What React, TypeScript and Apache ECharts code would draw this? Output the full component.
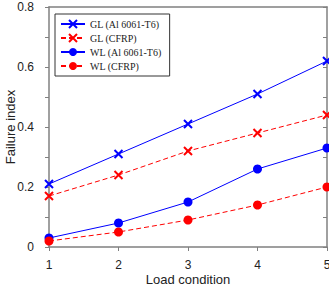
import React, { useEffect, useRef } from "react";
import * as echarts from "echarts";

const loadConditions = [1, 2, 3, 4, 5];
const glAl = [0.21, 0.31, 0.41, 0.51, 0.62];
const glCfrp = [0.17, 0.24, 0.32, 0.38, 0.44];
const wlAl = [0.03, 0.08, 0.15, 0.26, 0.33];
const wlCfrp = [0.02, 0.05, 0.09, 0.14, 0.2];
const seriesNames = ["GL (Al 6061-T6)", "GL (CFRP)", "WL (Al 6061-T6)", "WL (CFRP)"];

const BLUE = "#0000ff";
const RED = "#ff0000";
const CROSS = "path://M0,0L10,10M10,0L0,10";

export default function App() {
  const ref = useRef<HTMLDivElement>(null);
  useEffect(() => {
    if (!ref.current) return;
    const chart = echarts.init(ref.current, undefined, { renderer: "svg" });
    const pair = (vals: number[]) => loadConditions.map((x, i) => [x, vals[i]]);
    const mk = (name: string, vals: number[], color: string, dashed: boolean, cross: boolean) => ({
      name,
      type: "line",
      data: pair(vals),
      symbol: cross ? CROSS : "circle",
      symbolSize: cross ? 8 : 9,
      showAllSymbol: true,
      clip: false,
      lineStyle: { color, width: 1, type: dashed ? [5, 3] : "solid" },
      itemStyle: cross
        ? { color: "rgba(0,0,0,0)", borderColor: color, borderWidth: 2 }
        : { color, borderColor: color, borderWidth: 0 },
      emphasis: { disabled: true },
    });
    const axisLine = { show: true, onZero: false, lineStyle: { color: "#808080", width: 1.5 } };
    const tickStyle = { color: "#808080", width: 1 };
    const labelFont = { fontFamily: "Liberation Sans", fontSize: 12, color: "#222" };
    chart.setOption({
      animation: false,
      grid: { left: 49, right: 2, top: 7, bottom: 40, containLabel: false, outerBoundsMode: "none" },
      legend: {
        data: seriesNames,
        orient: "vertical",
        left: 55,
        top: 14,
        padding: [5, 8, 5, 5],
        itemGap: 4,
        itemWidth: 24,
        itemHeight: 10,
        borderColor: "#333",
        borderWidth: 1,
        backgroundColor: "#fff",
        textStyle: { fontFamily: "Liberation Serif", fontSize: 10, color: "#222" },
      },
      xAxis: [
        {
          type: "value",
          min: 1,
          max: 5,
          interval: 1,
          name: "Load condition",
          nameLocation: "middle",
          nameGap: 25.5,
          nameMoveOverlap: false,
          nameTextStyle: { fontFamily: "Liberation Sans", fontSize: 13, color: "#222" },
          axisLine,
          axisTick: { show: true, inside: false, length: 4, lineStyle: tickStyle },
          axisLabel: { ...labelFont, margin: 12 },
          splitLine: { show: false },
        },
        {
          type: "value",
          position: "top",
          min: 1,
          max: 5,
          interval: 1,
          axisLine,
          axisTick: { show: false },
          axisLabel: { show: false },
          splitLine: { show: false },
        },
      ],
      yAxis: [
        {
          type: "value",
          min: 0,
          max: 0.8,
          interval: 0.2,
          name: "Failure index",
          nameLocation: "middle",
          nameGap: 32,
          nameMoveOverlap: false,
          nameTextStyle: { fontFamily: "Liberation Sans", fontSize: 13, color: "#222" },
          axisLine,
          axisTick: { show: true, inside: false, length: 4, lineStyle: tickStyle },
          minorTick: { show: true, splitNumber: 2, length: 4, lineStyle: tickStyle },
          axisLabel: {
            ...labelFont,
            margin: 15,
            formatter: (v: number) => (v === 0 ? "0" : String(Math.round(v * 10) / 10)),
          },
          splitLine: { show: false },
        },
        {
          type: "value",
          position: "right",
          min: 0,
          max: 0.8,
          interval: 0.2,
          axisLine,
          axisTick: { show: true, inside: true, length: 4, lineStyle: tickStyle },
          minorTick: { show: true, splitNumber: 2, length: 4, lineStyle: tickStyle },
          axisLabel: { show: false },
          splitLine: { show: false },
        },
      ],
      series: [
        mk(seriesNames[0], glAl, BLUE, false, true),
        mk(seriesNames[1], glCfrp, RED, true, true),
        mk(seriesNames[2], wlAl, BLUE, false, false),
        mk(seriesNames[3], wlCfrp, RED, true, false),
      ],
    });
    return () => chart.dispose();
  }, []);
  return <div ref={ref} style={{ width: 329, height: 287, position: "absolute", left: 0, top: 0 }} />;
}
